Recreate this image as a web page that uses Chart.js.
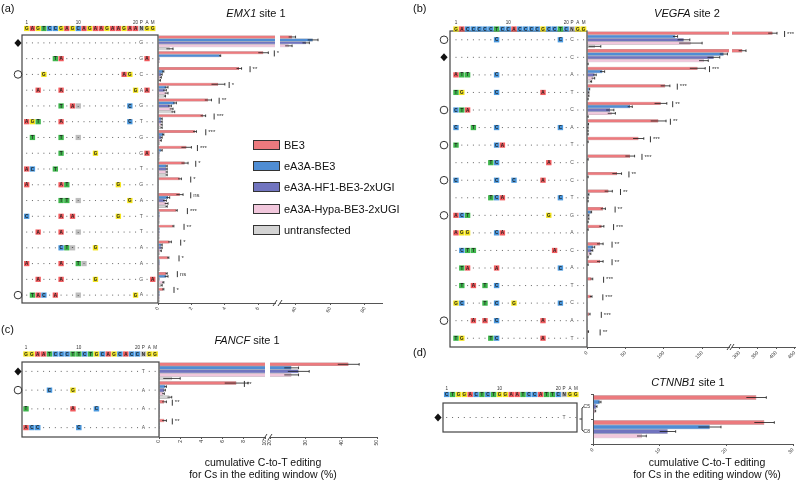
<!DOCTYPE html>
<html><head><meta charset="utf-8">
<script src="https://cdn.jsdelivr.net/npm/chart.js@4.4.1/dist/chart.umd.min.js"></script>
<style>
body{margin:0;background:#fff;}
#wrap{position:relative;width:800px;height:480px;overflow:hidden;font-family:"Liberation Sans",Arial,sans-serif;color:#111;}
canvas{position:absolute;}
.t{position:absolute;white-space:nowrap;line-height:1;}
.c{transform:translateX(-50%);}
.lg{position:absolute;left:253px;font-size:11px;white-space:nowrap;line-height:1;}
.sw{position:absolute;left:0;top:0px;width:25px;height:8px;border:1.3px solid #333;}
.lg span.tx{position:absolute;left:31px;top:0;}
</style></head><body><div id="wrap">
<canvas id="aL" width="400" height="330" style="left:0;top:0"></canvas>
<canvas id="aR" width="400" height="330" style="left:0;top:0"></canvas>
<canvas id="bL" width="400" height="370" style="left:400px;top:0"></canvas>
<canvas id="bR" width="400" height="370" style="left:400px;top:0"></canvas>
<canvas id="cL" width="400" height="130" style="left:0;top:330px"></canvas>
<canvas id="cR" width="400" height="130" style="left:0;top:330px"></canvas>
<canvas id="dC" width="400" height="100" style="left:400px;top:370px"></canvas>
<div class="t" style="left:1px;top:3px;font-size:11px">(a)</div>
<div class="t c" style="left:256px;top:8px;font-size:11px"><i>EMX1</i> site 1</div>
<div class="t" style="left:413px;top:3px;font-size:11px">(b)</div>
<div class="t c" style="left:687px;top:8px;font-size:11px"><i>VEGFA</i> site 2</div>
<div class="t" style="left:1px;top:324px;font-size:11px">(c)</div>
<div class="t c" style="left:247px;top:335px;font-size:11px"><i>FANCF</i> site 1</div>
<div class="t" style="left:413px;top:347px;font-size:11px">(d)</div>
<div class="t c" style="left:688px;top:377px;font-size:11px"><i>CTNNB1</i> site 1</div>
<div class="t c" style="left:263px;top:457px;font-size:10.5px">cumulative C-to-T editing</div>
<div class="t c" style="left:263px;top:469px;font-size:10.5px">for Cs in the editing window (%)</div>
<div class="t c" style="left:707px;top:457px;font-size:10.5px">cumulative C-to-T editing</div>
<div class="t c" style="left:707px;top:469px;font-size:10.5px">for Cs in the editing window (%)</div>
<div id="legend"></div>
</div>
<script>
// ---------------- data ----------------
const SERIES = ['BE3', 'eA3A-BE3', 'eA3A-HF1-BE3-2xUGI', 'eA3A-Hypa-BE3-2xUGI', 'untransfected'];

// (a) EMX1 site 1
const emx1Header = 'GAGTCCGAGCAGAAGAAGAANGG';
const emx1Rows = [
  '....................G..',
  '.....TA.............GA.',
  '...G.............AG.C..',
  '..A...A............GAA.',
  '......T.A-........C.G..',
  'AGT...A...........C.T..',
  '.T....T..-..........G..',
  '......T.....G.......GA.',
  'AC...T..............T..',
  'A.....AT........G...G..',
  '......TT.-........G.A..',
  'C.....A.A.......G...T..',
  '..A...A..-..........T..',
  '......CT-...G.......A..',
  'A.....A..T-.........A..',
  '..A...A.....G.......G.A',
  '.TAC.A...-.........GA..'
];
const emx1Marks = ['D', '', 'O', '', '', '', '', '', '', '', '', '', '', '', '', '', 'O'];
const emx1BE3   = [38, 6.3, 4.85, 3.6, 3.0, 2.7, 2.2, 1.7, 1.6, 1.3, 1.3, 1.1, 0.9, 0.7, 0.6, 0.5, 0.3];
const emx1EA3A  = [50, 3.7, 0.3, 0.5, 1.0, 0.2, 0.3, 0.2, 0.5, 0.05, 0.6, 0.1, 0.1, 0.2, 0.1, 0.5, 0.1];
const emx1HF1   = [46, 0.1, 0.2, 0.4, 0.7, 0.2, 0.2, 0.1, 0.5, 0.05, 0.4, 0.1, 0.1, 0.2, 0.1, 0.1, 0.1];
const emx1Hypa  = [36, 0.1, 0.15, 0.5, 0.8, 0.2, 0.15, 0.1, 0.5, 0.05, 0.5, 0.1, 0.1, 0.15, 0.1, 0.3, 0.1];
const emx1Untr  = [0.7, 0.05, 0.1, 0.4, 0.9, 0.2, 0.1, 0.1, 0.5, 0.05, 0.5, 0.1, 0.1, 0.1, 0.1, 0.2, 0.1];
const emx1ErrBE3  = [2, 0.3, 0.15, 0.4, 0.2, 0.15, 0.1, 0.3, 0.2, 0.1, 0.2, 0.05, 0.05, 0.1, 0.05, 0.05, 0.05];
const emx1ErrEA3A = [3, 0.05, 0.05, 0.1, 0.1, 0.05, 0.05, 0.05, 0.05, 0, 0.1, 0, 0, 0.05, 0, 0.1, 0];
const emx1ErrHF1  = [2, 0, 0.05, 0.1, 0.1, 0.05, 0.05, 0, 0.05, 0, 0.1, 0, 0, 0.05, 0, 0, 0];
const emx1ErrHypa = [2, 0, 0.05, 0.1, 0.1, 0.05, 0.05, 0, 0.05, 0, 0.1, 0, 0, 0.05, 0, 0.05, 0];
const emx1ErrUntr = [0.2, 0, 0.05, 0.05, 0.1, 0.05, 0, 0, 0.05, 0, 0.05, 0, 0, 0, 0, 0.05, 0];
const emx1Sig   = ['', '*', '**', '*', '**', '***', '***', '***', '*', '*', 'ns', '***', '**', '*', '*', 'ns', '*'];
const emx1TicksLow = [0, 2, 4, 6];
const emx1TicksHigh = [40, 60, 80];

// (b) VEGFA site 2
const vegfaHeader = 'GACCCCCTCCACCCCGCCTCNGG';
const vegfaRows = [
  '.......C..........C.C..',
  '....................C..',
  'ATT....C............A..',
  'TG.....C.......A....T..',
  'CTA.................C..',
  'C..T...C..........C.A..',
  'T......CA...........T..',
  '......TC........A...C..',
  'C......C..C....A....C..',
  '......TCA.........C.T..',
  'ACT.............G...G..',
  'AGG....CA...........A..',
  '.CTT.............A..C..',
  '.TA....A..........C.A..',
  '.T.A.T.C............T..',
  'GC...T.C..G.......C.C..',
  '...A.A.C.......A....A..',
  'TG....TC.......A....T..'
];
const vegfaMarks = ['O', 'D', '', '', 'O', '', 'O', '', 'O', '', 'O', '', '', '', '', '', 'O', ''];
const vegfaBE3  = [390, 308, 144, 102, 96, 93, 67, 56, 39, 28, 21, 19, 17, 17, 6, 5, 3, 1.5];
const vegfaEA3A = [115, 178, 20, 3, 56, 1.5, 1, 1, 1, 2, 5, 1, 8, 1, 0.5, 0.5, 0.5, 0.5];
const vegfaHF1  = [126, 165, 10, 2, 30, 1, 0.5, 0.5, 0.5, 1, 2, 0.5, 6, 0.5, 0.3, 0.3, 0.3, 0.3];
const vegfaHypa = [135, 152, 8, 2, 32, 1, 0.5, 0.5, 0.5, 1, 2, 0.5, 4, 0.5, 0.3, 0.3, 0.3, 0.3];
const vegfaUntr = [10, 1, 5, 1, 1, 1, 0.5, 0.5, 0.5, 0.5, 1, 0.5, 1, 0.5, 0.3, 0.3, 0.3, 0.3];
const vegfaErrBE3  = [12, 10, 10, 6, 8, 10, 7, 6, 6, 5, 3, 3, 4, 4, 1.5, 1.5, 1, 0.5];
const vegfaErrEA3A = [3, 5, 3, 0.5, 3, 0.5, 0.5, 0.5, 0.5, 0.5, 1, 0.5, 2, 0.5, 0, 0, 0, 0];
const vegfaErrHF1  = [8, 8, 2, 0.5, 5, 0.5, 0, 0, 0, 0.5, 0.5, 0, 1.5, 0, 0, 0, 0, 0];
const vegfaErrHypa = [15, 6, 2, 0.5, 5, 0.5, 0, 0, 0, 0.5, 0.5, 0, 1, 0, 0, 0, 0, 0];
const vegfaErrUntr = [8, 0.5, 1, 0.5, 0.5, 0.5, 0, 0, 0, 0, 0.5, 0, 0.5, 0, 0, 0, 0, 0];
const vegfaSig  = ['***', '', '***', '***', '**', '**', '***', '***', '**', '**', '**', '***', '**', '**', '***', '***', '***', '**'];
const vegfaTicksLow = [0, 50, 100, 150];
const vegfaTicksHigh = [300, 350, 400, 450];

// (c) FANCF site 1
const fancfHeader = 'GGAATCCCTTCTGCAGCACCNGG';
const fancfRows = [
  '....................T..',
  '....C...G...........A..',
  'T.......A...C.......A..',
  'ACC......C..........A..'
];
const fancfMarks = ['D', 'O', '', ''];
const fancfBE3  = [42, 7.3, 0.5, 0.5];
const fancfEA3A = [26, 0.6, 0.1, 0.1];
const fancfHF1  = [28, 0.5, 0.1, 0.1];
const fancfHypa = [26, 0.4, 0.1, 0.1];
const fancfUntr = [1.2, 1.0, 0.1, 0.1];
const fancfErrBE3  = [3, 1.1, 0.2, 0.2];
const fancfErrEA3A = [2, 0.1, 0, 0];
const fancfErrHF1  = [3, 0.1, 0, 0];
const fancfErrHypa = [2, 0.1, 0, 0];
const fancfErrUntr = [0.8, 0.2, 0, 0];
const fancfSig  = ['', '**', '**', '**'];
const fancfTicksLow = [0, 2, 4, 6, 8, 10];
const fancfTicksHigh = [20, 30, 40, 50];

// (d) CTNNB1 site 1
const ctnnb1Header = 'CTGGACTCTGGAATCCATTCNGG';
const ctnnb1Rows = ['....................T..'];
const ctnnb1Marks = ['D'];
const ctnnb1Cs = ['C5', 'C8'];
const ctnnb1BE3  = [24.5, 25.7];
const ctnnb1EA3A = [1.0, 17.5];
const ctnnb1HF1  = [0.5, 11.2];
const ctnnb1Hypa = [0.3, 7.3];
const ctnnb1Untr = [0.1, 0.1];
const ctnnb1ErrBE3  = [1.5, 1.5];
const ctnnb1ErrEA3A = [0.2, 1.7];
const ctnnb1ErrHF1  = [0.1, 1.2];
const ctnnb1ErrHypa = [0.1, 0.7];
const ctnnb1ErrUntr = [0, 0];
const ctnnb1Ticks = [0, 10, 20, 30];

// ---------------- style ----------------
const FONT = '"Liberation Sans", Arial, sans-serif';
const FILL = ['#EC7A7E', '#4F8DD4', '#7174BF', '#F1C7DC', '#D3D3D3'];
const EDGE = ['#8E3236', '#244A77', '#2C2E6A', '#8C6C7D', '#666666'];
const BASECOL = { A: '#F15A5D', C: '#4A98DE', G: '#F3E41C', T: '#3DB54B', N: '#BDBDBD', '-': '#BDBDBD' };

function datasets(vals, catPct) {
  return vals.map((d, k) => ({
    label: SERIES[k], data: d, backgroundColor: FILL[k], borderColor: EDGE[k],
    borderWidth: 0.5, borderSkipped: false, barPercentage: 1, categoryPercentage: catPct || 0.94, clip: 0
  }));
}
function xScale(min, max, ticks, rot, h) {
  return {
    type: 'linear', min, max,
    afterBuildTicks: s => { s.ticks = ticks.map(v => ({ value: v })); },
    afterFit: s => { s.height = h; },
    grid: { drawOnChartArea: false, drawTicks: true, tickLength: 2, color: '#555' },
    border: { display: true, color: '#555', width: 1 },
    ticks: { font: { size: 5, family: FONT }, color: '#333', maxRotation: rot, minRotation: rot, padding: 1, autoSkip: false }
  };
}
function cell(ctx, ch, x, y, w, h) {
  ctx.fillStyle = BASECOL[ch] || '#ccc';
  ctx.fillRect(x - w / 2, y - h / 2, w, h);
  ctx.fillStyle = '#222';
  ctx.fillText(ch, x, y + 0.3);
}
function seqPlug(c) {
  return { id: 'seq', afterDraw(chart) {
    const ctx = chart.ctx, ca = chart.chartArea, ys = chart.scales.y;
    const top = c.boxTop != null ? c.boxTop : ca.top;
    const bot = c.boxBottom != null ? c.boxBottom : ca.bottom;
    ctx.save();
    ctx.strokeStyle = '#444'; ctx.lineWidth = 1.2;
    ctx.strokeRect(c.boxLeft, top, c.boxRight - c.boxLeft, bot - top);
    ctx.textAlign = 'center'; ctx.textBaseline = 'middle';
    const w = c.step - 0.4, h = 5.2;
    ctx.font = 'bold 4.6px ' + FONT;
    for (let j = 0; j < c.header.length; j++) cell(ctx, c.header[j], c.pos1 + j * c.step, c.headY, w, h);
    ctx.font = '4.6px ' + FONT; ctx.fillStyle = '#333';
    [['1', 0], ['10', 9], ['20', 19], ['P', 20], ['A', 21], ['M', 22]].forEach(([t, j]) => ctx.fillText(t, c.pos1 + j * c.step, c.numY));
    c.rows.forEach((r, i) => {
      const y = c.rowY != null ? c.rowY : ys.getPixelForValue(i);
      for (let j = 0; j < r.length; j++) {
        const x = c.pos1 + j * c.step, ch = r[j];
        if (ch === '.') { ctx.fillStyle = '#666'; ctx.fillRect(x - 0.5, y - 0.5, 1, 1); }
        else if (j === 20) { ctx.font = '5px ' + FONT; ctx.fillStyle = '#555'; ctx.fillText(ch, x, y); }
        else { ctx.font = 'bold 4.6px ' + FONT; cell(ctx, ch, x, y, w, h); }
      }
      const m = c.marks[i], mx = c.markX;
      if (m === 'D') {
        ctx.fillStyle = '#111'; ctx.beginPath();
        ctx.moveTo(mx, y - 4); ctx.lineTo(mx + 3.6, y); ctx.lineTo(mx, y + 4); ctx.lineTo(mx - 3.6, y); ctx.closePath(); ctx.fill();
      } else if (m === 'O') {
        ctx.strokeStyle = '#333'; ctx.lineWidth = 1; ctx.beginPath(); ctx.arc(mx, y, 3.8, 0, Math.PI * 2); ctx.stroke();
      }
    });
    ctx.restore();
  }};
}
function errPlug(errs) {
  return { id: 'err', afterDatasetsDraw(chart) {
    const ctx = chart.ctx, ca = chart.chartArea, xs = chart.scales.x;
    ctx.save();
    ctx.beginPath(); ctx.rect(ca.left, ca.top - 5, ca.right - ca.left + 1, ca.bottom - ca.top + 10); ctx.clip();
    ctx.strokeStyle = '#1a1a1a'; ctx.lineWidth = 0.8;
    chart.data.datasets.forEach((ds, k) => {
      const meta = chart.getDatasetMeta(k);
      ds.data.forEach((v, i) => {
        const e = errs[k][i];
        if (!e) return;
        const bar = meta.data[i];
        const x0 = xs.getPixelForValue(v - e), x1 = xs.getPixelForValue(v + e), y = bar.y;
        ctx.beginPath(); ctx.moveTo(x0, y); ctx.lineTo(x1, y);
        ctx.moveTo(x1, y - 1.3); ctx.lineTo(x1, y + 1.3); ctx.stroke();
      });
    });
    ctx.restore();
  }};
}
function sigPlug(c, isRight) {
  return { id: 'sig', afterDatasetsDraw(chart) {
    const ctx = chart.ctx, xs = chart.scales.x, ys = chart.scales.y;
    const pitch = (chart.chartArea.bottom - chart.chartArea.top) / c.sig.length;
    ctx.save();
    c.sig.forEach((s, i) => {
      if (!s) return;
      const v = c.red[i];
      if ((v > c.lowMax) !== isRight) return;
      const x = xs.getPixelForValue(v) + c.off;
      const y = ys.getPixelForValue(i) - pitch * 0.33;
      ctx.strokeStyle = '#333'; ctx.lineWidth = 1;
      ctx.beginPath(); ctx.moveTo(x, y - 3); ctx.lineTo(x, y + 3); ctx.stroke();
      ctx.fillStyle = '#333'; ctx.font = '6px ' + FONT; ctx.textAlign = 'left'; ctx.textBaseline = 'middle';
      ctx.fillText(s, x + 2.5, y);
    });
    ctx.restore();
  }};
}
function breakPlug(side) {
  return { id: 'brk', afterDraw(chart) {
    const ca = chart.chartArea, ctx = chart.ctx;
    const x = side === 'r' ? ca.right : ca.left, y = ca.bottom;
    ctx.save(); ctx.strokeStyle = '#444'; ctx.lineWidth = 1;
    ctx.beginPath(); ctx.moveTo(x - 2, y + 3); ctx.lineTo(x + 2, y - 3); ctx.stroke(); ctx.restore();
  }};
}
function mk(id, labels, vals, x, padding, plugins, y, catPct) {
  return new Chart(document.getElementById(id), {
    type: 'bar',
    data: { labels, datasets: datasets(vals, catPct) },
    options: {
      indexAxis: 'y', responsive: false, animation: false, events: [],
      layout: { padding },
      scales: { x, y: y || { type: 'category', display: false, offset: true } },
      plugins: { legend: { display: false }, tooltip: { enabled: false } }
    },
    plugins
  });
}

// (a)
const aVals = [emx1BE3, emx1EA3A, emx1HF1, emx1Hypa, emx1Untr];
const aErr = [emx1ErrBE3, emx1ErrEA3A, emx1ErrHF1, emx1ErrHypa, emx1ErrUntr];
const aSig = { sig: emx1Sig, red: emx1BE3, lowMax: 7, off: 11 };
mk('aL', emx1Rows, aVals, xScale(0, 7, emx1TicksLow, 60, 20), { left: 158, right: 125, top: 35, bottom: 7 },
  [seqPlug({ header: emx1Header, rows: emx1Rows, marks: emx1Marks, boxLeft: 22, boxRight: 158, pos1: 26.7, step: 5.73, headY: 28.5, numY: 22.5, markX: 18 }),
   errPlug(aErr), sigPlug(aSig, false), breakPlug('r')]);
mk('aR', emx1Rows, aVals, xScale(31, 90, emx1TicksHigh, 60, 20), { left: 280, right: 18, top: 35, bottom: 7 },
  [errPlug(aErr), sigPlug(aSig, true), breakPlug('l')]);

// (b)
const bVals = [vegfaBE3, vegfaEA3A, vegfaHF1, vegfaHypa, vegfaUntr];
const bErr = [vegfaErrBE3, vegfaErrEA3A, vegfaErrHF1, vegfaErrHypa, vegfaErrUntr];
const bSig = { sig: vegfaSig, red: vegfaBE3, lowMax: 185, off: 12 };
mk('bL', vegfaRows, bVals, xScale(0, 185, vegfaTicksLow, 45, 20), { left: 187, right: 71, top: 31, bottom: 3 },
  [seqPlug({ header: vegfaHeader, rows: vegfaRows, marks: vegfaMarks, boxLeft: 50, boxRight: 187, pos1: 56, step: 5.8, headY: 29, numY: 22.5, markX: 44 }),
   errPlug(bErr), sigPlug(bSig, false), breakPlug('r')]);
mk('bR', vegfaRows, bVals, xScale(280, 452, vegfaTicksHigh, 45, 20), { left: 332, right: 3, top: 31, bottom: 3 },
  [errPlug(bErr), sigPlug(bSig, true), breakPlug('l')]);

// (c)
const cVals = [fancfBE3, fancfEA3A, fancfHF1, fancfHypa, fancfUntr];
const cErr = [fancfErrBE3, fancfErrEA3A, fancfErrHF1, fancfErrHypa, fancfErrUntr];
const cSig = { sig: fancfSig, red: fancfBE3, lowMax: 10, off: 8 };
mk('cL', fancfRows, cVals, xScale(0, 10, fancfTicksLow, 90, 20), { left: 159, right: 135, top: 32, bottom: 3 },
  [seqPlug({ header: fancfHeader, rows: fancfRows, marks: fancfMarks, boxLeft: 22, boxRight: 159, pos1: 26, step: 5.87, headY: 24, numY: 17.5, markX: 18 }),
   errPlug(cErr), sigPlug(cSig, false), breakPlug('r')]);
mk('cR', fancfRows, cVals, xScale(20, 50, fancfTicksHigh, 90, 20), { left: 270, right: 23, top: 32, bottom: 3 },
  [errPlug(cErr), sigPlug(cSig, true), breakPlug('l')]);

// (d)
const dVals = [ctnnb1BE3, ctnnb1EA3A, ctnnb1HF1, ctnnb1Hypa, ctnnb1Untr];
const dErr = [ctnnb1ErrBE3, ctnnb1ErrEA3A, ctnnb1ErrHF1, ctnnb1ErrHypa, ctnnb1ErrUntr];
const bracketPlug = { id: 'bracket', afterDraw(chart) {
  const ctx = chart.ctx, ys = chart.scales.y;
  const y1 = ys.getPixelForValue(0), y2 = ys.getPixelForValue(1), x = 182;
  ctx.save(); ctx.strokeStyle = '#333'; ctx.lineWidth = 1;
  ctx.beginPath(); ctx.moveTo(x + 2, y1); ctx.lineTo(x, y1 + 1.5); ctx.lineTo(x, y2 - 1.5); ctx.lineTo(x + 2, y2);
  ctx.moveTo(x, (y1 + y2) / 2); ctx.lineTo(x - 2.5, (y1 + y2) / 2); ctx.stroke(); ctx.restore();
}};
mk('dC', ctnnb1Cs, dVals, xScale(0, 30, ctnnb1Ticks, 45, 14), { left: 179, right: 7, top: 24, bottom: 12 },
  [seqPlug({ header: ctnnb1Header, rows: ctnnb1Rows, marks: ctnnb1Marks, boxLeft: 43, boxRight: 177, boxTop: 33, boxBottom: 62, rowY: 47.5, pos1: 46.7, step: 5.87, headY: 24.5, numY: 19, markX: 38 }),
   errPlug(dErr), bracketPlug],
  { type: 'category', offset: true, afterFit: s => { s.width = 14; },
    grid: { drawOnChartArea: false, drawTicks: true, tickLength: 2, color: '#555' },
    border: { display: true, color: '#555' },
    ticks: { font: { size: 5, family: FONT }, color: '#333', padding: 1 } }, 0.9);

// legend
const lg = document.getElementById('legend');
const lgY = [140, 161, 182, 204, 225];
SERIES.forEach((s, k) => {
  const d = document.createElement('div');
  d.className = 'lg'; d.style.top = lgY[k] + 'px';
  d.innerHTML = '<span class="sw" style="background:' + FILL[k] + '"></span><span class="tx">' + s + '</span>';
  lg.appendChild(d);
});
</script>
</body></html>
